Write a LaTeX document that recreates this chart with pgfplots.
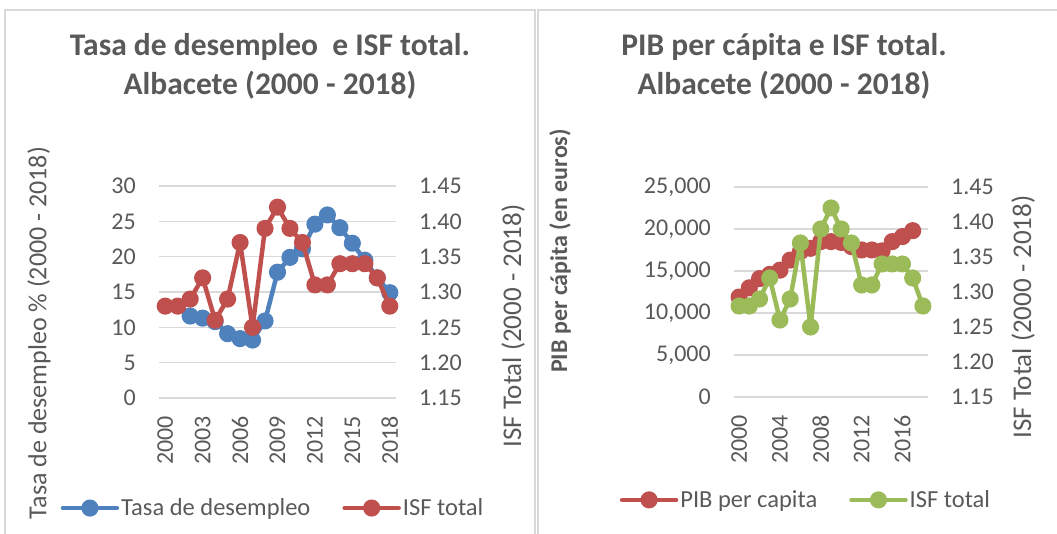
\documentclass[border=0pt]{standalone}
\usepackage{fontspec}
\setmainfont{Carlito}
\usepackage{pgfplots}
\usepackage{pgfplotstable}
\pgfplotsset{compat=1.18}

\definecolor{txt}{HTML}{595959}
\definecolor{gridc}{HTML}{D9D9D9}
\definecolor{azul}{HTML}{4F81BD}
\definecolor{rojo}{HTML}{C0504D}
\definecolor{verde}{HTML}{9BBB59}

% Tasa de desempleo (%), Albacete
\pgfplotstableread{
anio tasa
2002 11.6
2003 11.3
2004 10.8
2005 9.1
2006 8.4
2007 8.2
2008 10.9
2009 17.8
2010 19.9
2011 21.1
2012 24.6
2013 25.9
2014 24.1
2015 21.9
2016 19.5
2017 17.0
2018 14.9
}\tasa

% ISF total
\pgfplotstableread{
anio isf
2000 1.28
2001 1.28
2002 1.29
2003 1.32
2004 1.26
2005 1.29
2006 1.37
2007 1.25
2008 1.39
2009 1.42
2010 1.39
2011 1.37
2012 1.31
2013 1.31
2014 1.34
2015 1.34
2016 1.34
2017 1.32
2018 1.28
}\isf

% PIB per capita (euros)
\pgfplotstableread{
anio pib
2000 11900
2001 13000
2002 14100
2003 14600
2004 15100
2005 16300
2006 17300
2007 17700
2008 18500
2009 18500
2010 18400
2011 17900
2012 17500
2013 17500
2014 17400
2015 18500
2016 19100
2017 19800
}\pib

\pgfplotsset{
  base/.style={scale only axis, xmin=1999.5, xmax=2018.5,
    axis line style={draw=none}, major tick length=0pt, tick style={draw=none},
    tick label style={font=\fontsize{24}{24}\selectfont, text=txt, inner sep=0pt},
    /pgf/number format/assume math mode=true, scaled y ticks=false,
    xticklabel style={rotate=90, anchor=east, /pgf/number format/1000 sep={}},
    xticklabel shift=18pt, yticklabel shift=23pt},
  serie/.style={line width=4.5pt, line join=round, line cap=round, color=#1,
    mark=*, mark size=6.3pt, mark options={solid, fill=#1, draw=#1}},
  leyenda/.style={legend style={draw=none, fill=none, text=txt,
      font=\fontsize{24.5}{24.5}\selectfont, legend columns=2,
      /tikz/every even column/.append style={column sep=30pt},
      nodes={inner sep=2pt}},
    legend image code/.code={\draw[##1, mark repeat=2, mark phase=2]
      plot coordinates {(0pt,0pt) (27pt,0pt) (54pt,0pt)};}},
  isfeje/.style={axis y line*=right, axis x line=none,
    ymin=1.15, ymax=1.45, ytick={1.15,1.20,...,1.46},
    yticklabel style={/pgf/number format/.cd, fixed, fixed zerofill, precision=2}},
}

\begin{document}
\begin{tikzpicture}[x=1pt, y=1pt]
\path[use as bounding box] (0,0) rectangle (1057,534);
% marcos de los graficos
\draw[gridc, line width=1.2pt] (5,-5) -- (5,524) -- (535,524) -- (535,-5);
\draw[gridc, line width=1.2pt] (538,-5) -- (538,524) -- (1062,524);

% ---------- panel izquierdo ----------
\begin{axis}[base, at={(159pt,136pt)}, anchor=south west, width=237pt, height=212pt,
  ymin=0, ymax=30, ytick={0,5,...,30}, xtick={2000,2003,...,2018},
  ymajorgrids, grid style={gridc, line width=1.5pt}]
\addplot[serie=azul] table[x=anio, y=tasa] {\tasa};
\end{axis}
\begin{axis}[base, isfeje, leyenda, at={(159pt,136pt)}, anchor=south west,
  width=237pt, height=212pt,
  legend style={at={(0.481,-0.519)}, anchor=center}]
\addlegendimage{serie=azul}
\addlegendentry{Tasa de desempleo}
\addplot[serie=rojo] table[x=anio, y=isf] {\isf};
\addlegendentry{ISF total}
\end{axis}

\node[anchor=base, text=txt, font=\fontsize{31.5}{31.5}\selectfont\bfseries] at (270,478) {Tasa de desempleo~ e ISF total.};
\node[anchor=base, text=txt, font=\fontsize{31.5}{31.5}\selectfont\bfseries] at (270,439) {Albacete (2000 - 2018)};
\node[rotate=90, text=txt, font=\fontsize{26}{26}\selectfont] at (39,201) {Tasa de desempleo \% (2000 - 2018)};
\node[rotate=90, text=txt, font=\fontsize{27}{27}\selectfont] at (513,208) {ISF Total (2000 - 2018)};

% ---------- panel derecho ----------
\begin{axis}[base, at={(734pt,137pt)}, anchor=south west, width=194pt, height=210pt,
  ymin=0, ymax=25000, ytick={0,5000,...,25000}, xtick={2000,2004,...,2016},
  yticklabel style={/pgf/number format/.cd, fixed, 1000 sep={,}},
  ymajorgrids, grid style={gridc, line width=1.5pt}]
\addplot[serie=rojo] table[x=anio, y=pib] {\pib};
\end{axis}
\begin{axis}[base, isfeje, leyenda, at={(734pt,137pt)}, anchor=south west,
  width=194pt, height=210pt,
  legend style={at={(0.371,-0.49)}, anchor=center}]
\addlegendimage{serie=rojo}
\addlegendentry{PIB per capita}
\addplot[serie=verde] table[x=anio, y=isf] {\isf};
\addlegendentry{ISF total}
\end{axis}

\node[anchor=base, text=txt, font=\fontsize{31.5}{31.5}\selectfont\bfseries] at (784,478) {PIB per cápita e ISF total.};
\node[anchor=base, text=txt, font=\fontsize{31.5}{31.5}\selectfont\bfseries] at (784,439) {Albacete (2000 - 2018)};
\node[rotate=90, text=txt, font=\fontsize{24}{24}\selectfont\bfseries] at (560,283) {PIB per cápita (en euros)};
\node[rotate=90, text=txt, font=\fontsize{27}{27}\selectfont] at (1023,217) {ISF Total (2000 - 2018)};
\end{tikzpicture}
\end{document}
